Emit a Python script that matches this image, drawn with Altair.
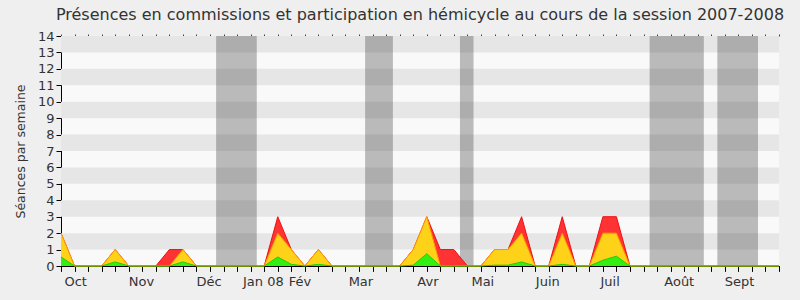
import altair as alt
import pandas as pd

# Weekly data, week 0 = first week of Oct 2007, 54 weeks
weeks = list(range(54))
total = [2, 0, 0, 0, 1, 0, 0, 0, 1, 1, 0, 0, 0, 0, 0, 0, 3, 1, 0, 1,
         0, 0, 0, 0, 0, 0, 1, 3, 1, 1, 0, 0, 1, 1, 3, 0, 0, 3, 0, 0,
         3, 3, 0, 0, 0, 0, 0, 0, 0, 0, 0, 0, 0, 0]
yellow = [2, 0, 0, 0, 1, 0, 0, 0, 0, 1, 0, 0, 0, 0, 0, 0, 2, 1, 0, 1,
          0, 0, 0, 0, 0, 0, 1, 3, 0, 0, 0, 0, 1, 1, 2, 0, 0, 2, 0, 0,
          2, 2, 0, 0, 0, 0, 0, 0, 0, 0, 0, 0, 0, 0]
green = [0.55, 0, 0, 0, 0.25, 0, 0, 0, 0, 0.25, 0, 0, 0, 0, 0, 0, 0.55, 0.1, 0, 0.1,
         0, 0, 0, 0, 0, 0, 0.05, 0.75, 0, 0, 0, 0, 0.05, 0.05, 0.25, 0, 0, 0.1, 0, 0,
         0.35, 0.6, 0, 0, 0, 0, 0, 0, 0, 0, 0, 0, 0, 0]

# Hemicycle breaks (in weeks)
break_start = [11.45, 22.45, 29.45, 43.45, 48.45]
break_end = [14.45, 24.5, 30.45, 47.45, 51.45]

# Month labels and their positions (in weeks)
month_names = ["Oct", "Nov", "Déc", "Jan 08", "Fév", "Mar", "Avr", "Mai", "Juin", "Juil", "Août", "Sept"]
month_pos = [1.05, 5.9, 10.9, 14.9, 17.6, 22.1, 27.05, 31.1, 35.9, 40.5, 45.6, 50.05]

y_ticks = list(range(15))
band_starts = list(range(1, 14, 2))

W, H = 718, 230
FONT = "DejaVu Sans"

df = pd.DataFrame({"week": weeks, "total": total, "yellow": yellow, "green": green})
breaks = pd.DataFrame({"s": break_start, "e": break_end})
bands = pd.DataFrame({"y": band_starts, "y2": [b + 1 for b in band_starts]})
months = pd.DataFrame({"pos": month_pos, "name": month_names})

xscale = alt.Scale(domain=[0, 53], nice=False, zero=False)
yscale = alt.Scale(domain=[0, 14], nice=False)

yaxis = alt.Axis(title="Séances par semaine", values=y_ticks, tickSize=5,
                 labelFontSize=13, labelColor="#333", tickColor="#000",
                 domainColor="#000", titleFontSize=12.5, titleColor="#333",
                 titleFontWeight="normal", titlePadding=10, labelPadding=2,
                 labelOverlap=False, labelBound=False, tickCount=15,
                 grid=False, labelFont=FONT, titleFont=FONT)

label_expr = "{" + ",".join(f"'{p:g}':'{n}'" for p, n in zip(month_pos, month_names)) + "}"

band_layer = alt.Chart(bands).mark_rect(color="#E6E6E6").encode(
    y=alt.Y("y:Q", scale=yscale, axis=yaxis),
    y2="y2:Q",
)

break_layer = alt.Chart(breaks).mark_rect(color="#353535", opacity=0.32).encode(
    x=alt.X("s:Q", scale=xscale, axis=None),
    x2="e:Q",
)

def area(field, fill, stroke):
    return alt.Chart(df).mark_area(color=fill, opacity=1, fillOpacity=1,
                                   line={"color": stroke, "strokeWidth": 1},
                                   interpolate="linear").encode(
        x=alt.X("week:Q", scale=xscale,
                axis=alt.Axis(values=weeks, labels=False, title=None, tickSize=5,
                              tickColor="#000", domainColor="#000", grid=False, orient="bottom")),
        y=alt.Y(f"{field}:Q", scale=yscale, axis=yaxis),
    )

red_area = area("total", "#FF3333", "#EE1111")
yellow_area = area("yellow", "#FFD21A", "#FF9900")
green_area = area("green", "#33EE11", "#22CC00")

month_layer = alt.Chart(months).mark_point(opacity=0).encode(
    x=alt.X("pos:Q", scale=xscale,
            axis=alt.Axis(values=month_pos, orient="bottom", ticks=False, domain=False, title=None,
                          labelExpr=f"{label_expr}[''+datum.value]", labelFontSize=13,
                          labelColor="#333", labelPadding=9, grid=False, labelFont=FONT,
                          labelOverlap=False, labelFlush=False)),
)

top_layer = alt.Chart(df).mark_point(opacity=0).encode(
    x=alt.X("week:Q", scale=xscale,
            axis=alt.Axis(values=weeks, orient="top", labels=False, domain=False, title=None,
                          tickSize=2, tickColor="#444", grid=False)),
)

chart = alt.layer(band_layer, break_layer, red_area, yellow_area, green_area, month_layer, top_layer).resolve_axis(
    x="independent"
).properties(
    width=W, height=H,
    title=alt.TitleParams("Présences en commissions et participation en hémicycle au cours de la session 2007-2008",
                          fontSize=16, font=FONT, fontWeight="normal", color="#333", anchor="middle", offset=7),
    autosize=alt.AutoSizeParams(type="none"),
    padding={"left": 61, "top": 36, "right": 21, "bottom": 34},
    background="#EFEFEF",
).configure_view(fill="#F9F9F9", stroke=None)

chart.save("out.html", embed_options={"renderer": "svg", "actions": False})
